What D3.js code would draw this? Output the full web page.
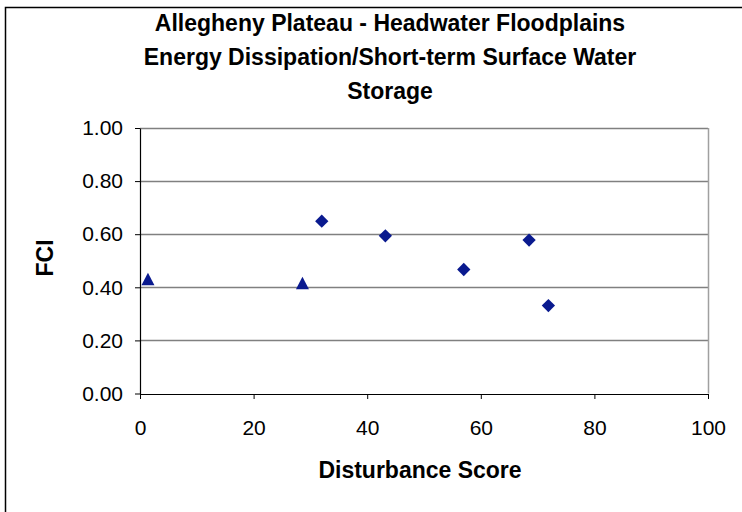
<!DOCTYPE html>
<html><head><meta charset="utf-8">
<script src="https://cdn.jsdelivr.net/npm/d3@7"></script>
<style>body{margin:0;background:#fff}svg{display:block}text{font-family:"Liberation Sans",Arial,sans-serif}</style>
</head><body><svg id="c" width="742" height="512"></svg>
<script>
const titleLines = ["Allegheny Plateau - Headwater Floodplains","Energy Dissipation/Short-term Surface Water","Storage"];
const triX = [1.4, 28.6];
const triY = [0.43, 0.415];
const diaX = [32.0, 43.2, 57.0, 68.5, 71.9];
const diaY = [0.649, 0.594, 0.467, 0.578, 0.331];
const xTicks = [0,20,40,60,80,100];
const yTicks = [0,0.2,0.4,0.6,0.8,1.0];
const xLabel = "Disturbance Score", yLabel = "FCI";

const svg = d3.select("#c");
const L=140,R=708,T=128,B=393.5;
const x = d3.scaleLinear().domain([0,100]).range([L,R]);
const y = d3.scaleLinear().domain([0,1]).range([B,T]);

// outer frame
svg.append("path").attr("d","M5.5,512 V7.5 H742").attr("fill","none").attr("stroke","#000").attr("stroke-width",1.5);

// gridlines
svg.append("g").selectAll("line").data(yTicks.filter(d=>d>0)).join("line")
 .attr("x1",L).attr("x2",R).attr("y1",d=>Math.round(y(d))+0.5).attr("y2",d=>Math.round(y(d))+0.5)
 .attr("stroke","#808080").attr("stroke-width",1.5);
// right border
svg.append("line").attr("x1",R+0.5).attr("x2",R+0.5).attr("y1",T).attr("y2",B).attr("stroke","#a0a0a0").attr("stroke-width",1.5);

// axes
const xa = svg.append("g").attr("transform",`translate(0,${Math.round(B)})`)
 .call(d3.axisBottom(x).tickValues(xTicks).tickSize(5).tickPadding(21).tickSizeOuter(0).tickFormat(d3.format("d")));
const ya = svg.append("g").attr("transform",`translate(${L},0)`)
 .call(d3.axisLeft(y).tickValues(yTicks).tickSize(5).tickPadding(12).tickSizeOuter(0).tickFormat(d3.format(".2f")));
[xa,ya].forEach(g=>{g.select(".domain").attr("stroke","#000").attr("stroke-width",1.2);
 g.selectAll(".tick line").attr("stroke","#000");
 g.selectAll(".tick text").attr("font-size",21).attr("fill","#000").attr("font-family","Liberation Sans, Arial, sans-serif");});

// markers
const col = "#0a1a8f";
svg.append("g").selectAll("path").data(diaX.map((d,i)=>[d,diaY[i]])).join("path")
 .attr("transform",d=>`translate(${x(d[0])},${y(d[1])}) rotate(45)`)
 .attr("d","M-4.7,-4.7H4.7V4.7H-4.7Z").attr("fill",col);
svg.append("g").selectAll("path").data(triX.map((d,i)=>[d,triY[i]])).join("path")
 .attr("transform",d=>`translate(${x(d[0])},${y(d[1])})`)
 .attr("d","M0,-6.5L6.5,6L-6.5,6Z").attr("fill",col);

// titles
svg.append("g").selectAll("text").data(titleLines).join("text")
 .attr("x",390).attr("y",(d,i)=>31+i*34).attr("text-anchor","middle")
 .attr("font-size",23).attr("font-weight","bold").text(d=>d);
svg.append("text").attr("x",420).attr("y",478).attr("text-anchor","middle")
 .attr("font-size",23).attr("font-weight","bold").text(xLabel);
svg.append("text").attr("transform","translate(53,258) rotate(-90)").attr("text-anchor","middle")
 .attr("font-size",23).attr("font-weight","bold").text(yLabel);
</script></body></html>
